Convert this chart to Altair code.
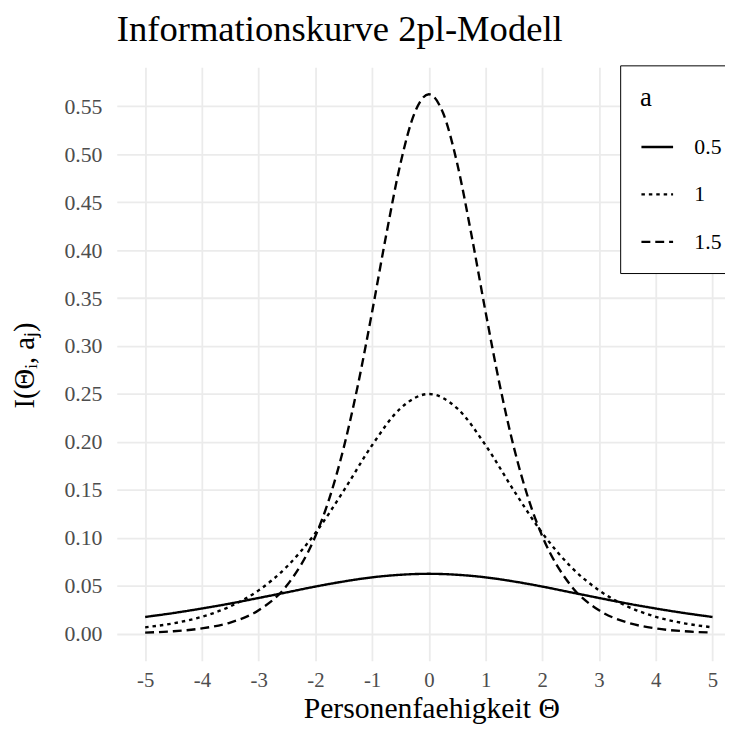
import altair as alt
import pandas as pd

# Ability values (theta) and item information
theta = [-5, -4.5, -4, -3.5, -3, -2.5, -2, -1.5, -1, -0.5, 0,
         0.5, 1, 1.5, 2, 2.5, 3, 3.5, 4, 4.5, 5]
info_a05 = [0.0175, 0.0216, 0.0263, 0.0315, 0.0373, 0.0432, 0.0492, 0.0545, 0.0588, 0.0615, 0.0625,
            0.0615, 0.0588, 0.0545, 0.0492, 0.0432, 0.0373, 0.0315, 0.0263, 0.0216, 0.0175]
info_a10 = [0.0067, 0.0109, 0.0177, 0.0285, 0.0452, 0.0701, 0.1050, 0.1492, 0.1966, 0.2350, 0.2500,
            0.2350, 0.1966, 0.1492, 0.1050, 0.0701, 0.0452, 0.0285, 0.0177, 0.0109, 0.0067]
theta_a15 = [-5, -4.5, -4, -3.5, -3, -2.5, -2, -1.75, -1.5, -1.25, -1, -0.75, -0.5, -0.25, 0,
             0.25, 0.5, 0.75, 1, 1.25, 1.5, 1.75, 2, 2.5, 3, 3.5, 4, 4.5, 5]
info_a15 = [0.0012, 0.0026, 0.0056, 0.0117, 0.0245, 0.0505, 0.1017, 0.1417, 0.1941, 0.2594, 0.3356,
            0.4163, 0.4903, 0.5432, 0.5625,
            0.5432, 0.4903, 0.4163, 0.3356, 0.2594, 0.1941, 0.1417, 0.1017, 0.0505, 0.0245, 0.0117,
            0.0056, 0.0026, 0.0012]

a_levels = ["0.5", "1", "1.5"]
dash_patterns = [[1, 0], [3.5, 4], [9, 5]]
x_ticks = [-5, -4, -3, -2, -1, 0, 1, 2, 3, 4, 5]
y_ticks = [0, 0.05, 0.1, 0.15, 0.2, 0.25, 0.3, 0.35, 0.4, 0.45, 0.5, 0.55]

rows = []
for t, v in zip(theta, info_a05):
    rows.append({"theta": t, "info": v, "a": "0.5"})
for t, v in zip(theta, info_a10):
    rows.append({"theta": t, "info": v, "a": "1"})
for t, v in zip(theta_a15, info_a15):
    rows.append({"theta": t, "info": v, "a": "1.5"})
df = pd.DataFrame(rows)

FONT = "Liberation Serif"

chart = alt.Chart(df).mark_line(
    color="black", strokeWidth=2.4, interpolate="monotone"
).encode(
    x=alt.X("theta:Q",
            scale=alt.Scale(domain=[-5.5, 5.22], nice=False, zero=False),
            axis=alt.Axis(values=x_ticks, title="Personenfaehigkeit Θ",
                          labelExpr="'' + datum.value",
                          labelFontSize=21, labelColor="#4d4d4d", labelFont=FONT,
                          labelPadding=9, ticks=False, domain=False,
                          gridColor="#ebebeb", gridWidth=1.8,
                          titleFont=FONT, titleFontSize=30, titleFontWeight="normal",
                          titleColor="black", titleX=318, titleY=57,
                          titleBaseline="alphabetic", titleAlign="center")),
    y=alt.Y("info:Q",
            scale=alt.Scale(domain=[-0.028125, 0.590625], nice=False, zero=False),
            axis=alt.Axis(values=y_ticks, format=".2f", title="I(Θᵢ, aⱼ)",
                          labelFontSize=22, labelColor="#4d4d4d", labelFont=FONT,
                          labelPadding=15, ticks=False, domain=False,
                          gridColor="#ebebeb", gridWidth=1.8,
                          titleFont=FONT, titleFontSize=29, titleFontWeight="normal",
                          titleColor="black", titleAngle=270, titleX=-84, titleY=301,
                          titleBaseline="alphabetic", titleAlign="center")),
    strokeDash=alt.StrokeDash("a:N", sort=a_levels,
                              scale=alt.Scale(domain=a_levels, range=dash_patterns),
                              legend=alt.Legend(
                                  orient="none", legendX=509, legendY=-2,
                                  title="a", titleFont=FONT, titleFontSize=27,
                                  titleFontWeight="normal", titleColor="black",
                                  titlePadding=18,
                                  labelFont=FONT, labelFontSize=22, labelColor="black",
                                  labelOffset=20,
                                  symbolType="stroke", symbolSize=1024,
                                  symbolStrokeWidth=2.4, symbolStrokeColor="black",
                                  strokeColor="black", fillColor="white",
                                  padding=20, rowPadding=19)),
).properties(
    width=615, height=600,
    title=alt.TitleParams("Informationskurve 2pl-Modell", anchor="start", frame="group",
                          font=FONT, fontSize=37, fontWeight="normal",
                          color="black", dx=0, offset=16),
    autosize=alt.AutoSizeParams(type="none"),
    padding={"left": 110, "top": 56, "right": 0, "bottom": 61},
).configure_view(stroke=None)

chart.save("out.html", embed_options={"renderer": "svg", "actions": False})
